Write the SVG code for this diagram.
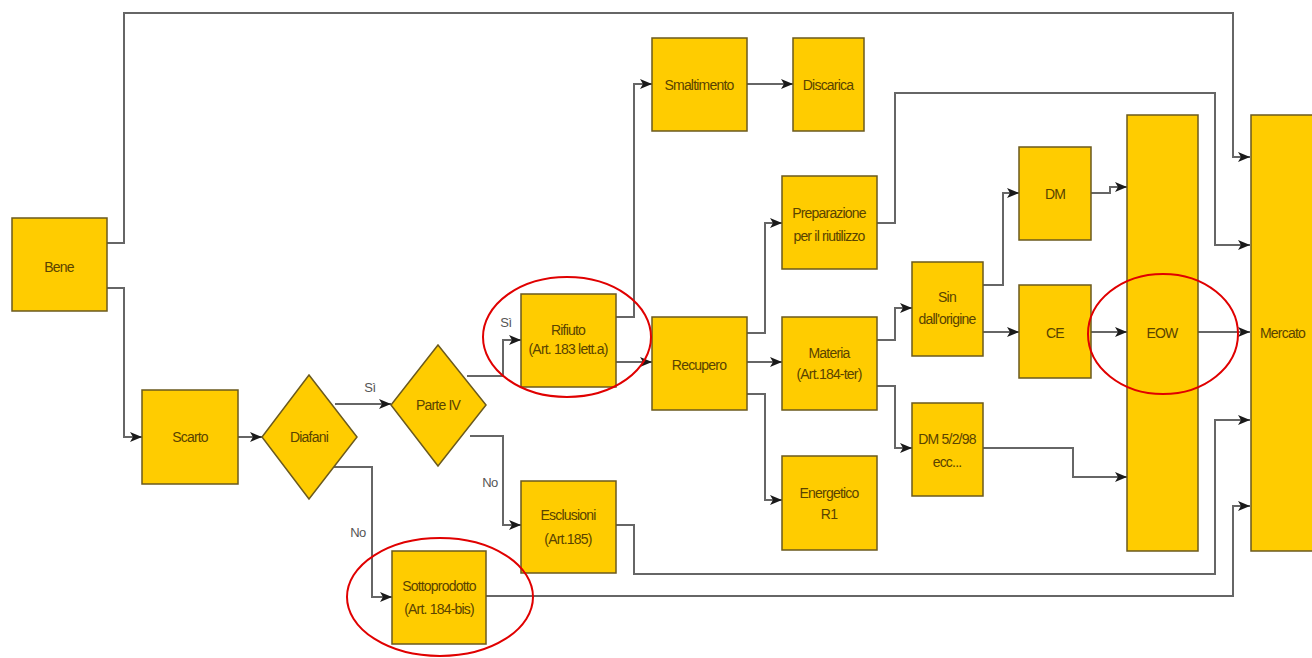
<svg xmlns="http://www.w3.org/2000/svg" width="1312" height="658" viewBox="0 0 1312 658">
<defs>
<marker id="arr" viewBox="0 0 12 10" refX="12" refY="5" markerWidth="12" markerHeight="10" markerUnits="userSpaceOnUse" orient="auto">
<path d="M0,0 L12,5 L0,10 L3,5 Z" fill="#1a1a1a"/>
</marker>
<style>
.n{fill:#FFCC00;stroke:#6b5a1e;stroke-width:1.5}
.t{font-family:"Liberation Sans",Arial,sans-serif;font-size:14px;fill:#5a4300;text-anchor:middle;letter-spacing:-0.8px}
.c{fill:none;stroke:#666;stroke-width:2}
.a{marker-end:url(#arr)}
.l{font-family:"Liberation Sans",Arial,sans-serif;font-size:13px;fill:#555;text-anchor:middle;letter-spacing:-0.5px}
.r{fill:none;stroke:#e00000;stroke-width:2}
</style>
</defs>
<rect width="1312" height="658" fill="#fff"/>
<g id="connectors">
<path class="c a" d="M107,243 H124 V13 H1233 V157 H1250"/>
<path class="c a" d="M107,288 H124 V437 H142"/>
<path class="c a" d="M238,437 H262"/>
<path class="c a" d="M335,404 H391"/>
<path class="c a" d="M333,467 H372 V597 H392"/>
<path class="c a" d="M486,596 H1233 V506 H1250"/>
<path class="c a" d="M467,376 H503 V340 H521"/>
<path class="c a" d="M470,436 H503 V525 H521"/>
<path class="c a" d="M616,525 H634 V574 H1215 V420 H1250"/>
<path class="c a" d="M616,317 H634 V84 H652"/>
<path class="c a" d="M747,84 H793"/>
<path class="c a" d="M616,362 H652"/>
<path class="c a" d="M747,333 H765 V223 H782"/>
<path class="c a" d="M747,362 H782"/>
<path class="c a" d="M747,394 H765 V500 H782"/>
<path class="c a" d="M877,223 H895 V93 H1215 V245 H1250"/>
<path class="c a" d="M877,340 H895 V308 H912"/>
<path class="c a" d="M877,386 H895 V448 H912"/>
<path class="c a" d="M983,285 H1003 V193 H1019"/>
<path class="c a" d="M983,332 H1019"/>
<path class="c a" d="M1091,193 H1110 V187 H1127"/>
<path class="c a" d="M1091,332 H1127"/>
<path class="c a" d="M983,448 H1073 V477 H1127"/>
<path class="c a" d="M1198,332 H1250"/>
<text class="l" x="370" y="392">Sì</text>
<text class="l" x="358" y="537">No</text>
<text class="l" x="506" y="327">Sì</text>
<text class="l" x="490" y="487">No</text>
</g>
<g id="bene"><rect class="n" x="12" y="218" width="95" height="93"/><text class="t" x="59" y="272">Bene</text></g>
<g id="scarto"><rect class="n" x="142" y="390" width="96" height="94"/><text class="t" x="190" y="442">Scarto</text></g>
<g id="diafani"><path class="n" d="M309,375 L357,437 L309,499 L262,437 Z"/><text class="t" x="309" y="442">Diafani</text></g>
<g id="parte4"><path class="n" d="M438,345 L486,405 L438,466 L391,405 Z"/><text class="t" x="438" y="410">Parte IV</text></g>
<g id="rifiuto"><rect class="n" x="521" y="294" width="95" height="93"/><text class="t" x="568" y="335">Rifiuto</text><text class="t" x="568" y="354">(Art. 183 lett.a)</text></g>
<g id="esclusioni"><rect class="n" x="521" y="481" width="95" height="92"/><text class="t" x="568" y="520">Esclusioni</text><text class="t" x="568" y="544">(Art.185)</text></g>
<g id="sottoprodotto"><rect class="n" x="392" y="551" width="94" height="93"/><text class="t" x="439" y="591">Sottoprodotto</text><text class="t" x="439" y="614">(Art. 184-bis)</text></g>
<g id="smaltimento"><rect class="n" x="652" y="38" width="95" height="93"/><text class="t" x="699" y="90">Smaltimento</text></g>
<g id="discarica"><rect class="n" x="793" y="38" width="71" height="93"/><text class="t" x="828" y="90">Discarica</text></g>
<g id="recupero"><rect class="n" x="652" y="317" width="95" height="93"/><text class="t" x="699" y="370">Recupero</text></g>
<g id="preparazione"><rect class="n" x="782" y="176" width="95" height="93"/><text class="t" x="829" y="218">Preparazione</text><text class="t" x="829" y="241">per il riutilizzo</text></g>
<g id="materia"><rect class="n" x="782" y="317" width="95" height="93"/><text class="t" x="829" y="358">Materia</text><text class="t" x="829" y="379">(Art.184-ter)</text></g>
<g id="energetico"><rect class="n" x="782" y="456" width="95" height="94"/><text class="t" x="829" y="498">Energetico</text><text class="t" x="829" y="519">R1</text></g>
<g id="sin"><rect class="n" x="912" y="262" width="71" height="94"/><text class="t" x="947" y="302">Sin</text><text class="t" x="947" y="324">dall'origine</text></g>
<g id="dm598"><rect class="n" x="912" y="403" width="71" height="93"/><text class="t" x="947" y="444">DM 5/2/98</text><text class="t" x="947" y="467">ecc...</text></g>
<g id="dm"><rect class="n" x="1019" y="147" width="72" height="93"/><text class="t" x="1055" y="199">DM</text></g>
<g id="ce"><rect class="n" x="1019" y="285" width="72" height="93"/><text class="t" x="1055" y="338">CE</text></g>
<g id="eow"><rect class="n" x="1127" y="115" width="71" height="436"/><text class="t" x="1162" y="338">EOW</text></g>
<g id="mercato"><rect class="n" x="1251" y="115" width="70" height="436"/><text class="t" x="1260" y="338" style="text-anchor:start">Mercato</text></g>
<g id="highlights">
<ellipse class="r" cx="567" cy="337" rx="84" ry="60"/>
<ellipse class="r" cx="440" cy="597" rx="93" ry="59"/>
<ellipse class="r" cx="1163" cy="334" rx="75" ry="60"/>
</g>
</svg>
